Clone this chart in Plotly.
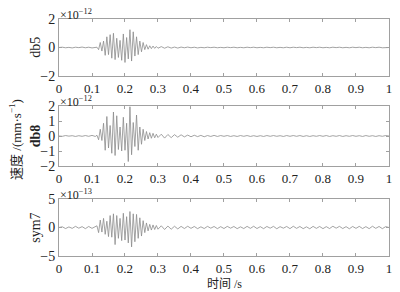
import plotly.graph_objects as go

# time samples (s)
time_pre = [0.00, 0.01, 0.02, 0.03, 0.04, 0.05, 0.06, 0.07, 0.08, 0.09, 0.10, 0.11]
time_act = [0.115, 0.120, 0.125, 0.130, 0.135, 0.140, 0.145, 0.150, 0.155, 0.160,
            0.165, 0.170, 0.175, 0.180, 0.185, 0.190, 0.195, 0.200, 0.205, 0.210,
            0.215, 0.220, 0.225, 0.230, 0.235, 0.240, 0.245, 0.250, 0.255, 0.260,
            0.265, 0.270, 0.275, 0.280, 0.285, 0.290, 0.295, 0.300]
time_post = [0.31, 0.32, 0.33, 0.34, 0.35, 0.36, 0.37, 0.38, 0.39, 0.40,
             0.41, 0.42, 0.43, 0.44, 0.45, 0.46, 0.47, 0.48, 0.49, 0.50,
             0.51, 0.52, 0.53, 0.54, 0.55, 0.56, 0.57, 0.58, 0.59, 0.60,
             0.61, 0.62, 0.63, 0.64, 0.65, 0.66, 0.67, 0.68, 0.69, 0.70,
             0.71, 0.72, 0.73, 0.74, 0.75, 0.76, 0.77, 0.78, 0.79, 0.80,
             0.81, 0.82, 0.83, 0.84, 0.85, 0.86, 0.87, 0.88, 0.89, 0.90,
             0.91, 0.92, 0.93, 0.94, 0.95, 0.96, 0.97, 0.98, 0.99, 1.00]

# db5 velocity (x1e-12)
db5_pre = [0.0, 0.02, -0.02, 0.01, -0.03, 0.02, -0.01, 0.03, -0.02, 0.02, -0.03, 0.04]
db5_act = [0.02, -0.15, 0.35, -0.25, 0.45, -0.55, 0.75, -0.5, 0.9, -0.75,
           1.0, -0.85, 0.65, -0.7, 0.5, -0.9, 0.95, -1.05, 0.7, -0.8,
           1.25, -0.95, 1.1, -0.6, 0.75, -0.5, 0.45, -0.3, 0.35, -0.15,
           0.2, -0.12, 0.12, -0.08, 0.1, -0.06, 0.07, -0.05]
db5_post = [0.06, -0.05, 0.05, -0.04, 0.03, -0.04, 0.03, -0.02, 0.03, -0.02,
            0.02, -0.03, 0.01, -0.02, 0.02, -0.01, 0.02, -0.02, 0.01, -0.02,
            0.02, -0.01, 0.02, -0.02, 0.01, -0.02, 0.02, -0.01, 0.02, -0.02,
            0.01, -0.02, 0.02, -0.01, 0.02, -0.02, 0.01, -0.02, 0.02, -0.02,
            0.02, -0.01, 0.02, -0.02, 0.01, -0.02, 0.02, -0.01, 0.02, -0.02,
            0.01, -0.02, 0.02, -0.01, 0.02, -0.02, 0.01, -0.02, 0.02, -0.01,
            0.02, -0.02, 0.01, -0.02, 0.02, -0.01, 0.02, -0.02, 0.01, 0.0]

# db8 velocity (x1e-12)
db8_pre = [0.0, -0.02, 0.03, -0.01, 0.02, -0.03, 0.02, -0.02, 0.03, -0.02, 0.04, -0.03]
db8_act = [0.05, -0.25, 0.45, -0.3, 0.85, -0.95, 1.3, -0.8, 0.7, -1.15,
           1.6, -1.3, 1.35, -0.9, 0.6, -1.0, 1.25, -0.95, 0.85, -1.7,
           1.95, -1.25, 0.9, -0.7, 1.4, -0.95, 0.6, -0.55, 0.45, -0.3,
           0.3, -0.2, 0.22, -0.15, 0.18, -0.12, 0.12, -0.1]
db8_post = [0.12, -0.14, 0.1, -0.11, 0.09, -0.08, 0.08, -0.06, 0.06, -0.05,
            0.05, -0.04, 0.04, -0.05, 0.03, -0.03, 0.04, -0.03, 0.03, -0.02,
            0.03, -0.03, 0.02, -0.03, 0.03, -0.02, 0.03, -0.03, 0.02, -0.03,
            0.02, -0.03, 0.03, -0.02, 0.03, -0.02, 0.02, -0.03, 0.03, -0.02,
            0.03, -0.02, 0.03, -0.03, 0.02, -0.03, 0.02, -0.02, 0.03, -0.02,
            0.03, -0.03, 0.02, -0.02, 0.03, -0.03, 0.02, -0.02, 0.03, -0.02,
            0.02, -0.03, 0.03, -0.02, 0.02, -0.03, 0.02, -0.02, 0.03, 0.0]

# sym7 velocity (x1e-13)
sym7_pre = [0.0, 0.12, -0.18, 0.1, -0.15, 0.2, -0.12, 0.15, -0.2, 0.18, -0.15, 0.25]
sym7_act = [0.3, -0.9, 1.3, -0.8, 1.6, -1.2, 1.1, -1.6, 2.1, -1.7,
            2.4, -3.0, 2.1, -1.9, 1.6, -2.3, 2.5, -2.2, 1.9, -2.7,
            2.8, -3.4, 2.4, -2.5, 2.3, -1.9, 1.7, -1.5, 1.2, -0.9,
            0.8, -0.6, 0.55, -0.45, 0.45, -0.35, 0.35, -0.3]
sym7_post = [0.3, -0.35, 0.25, -0.3, 0.22, -0.25, 0.2, -0.18, 0.22, -0.15,
             0.18, -0.2, 0.12, -0.18, 0.2, -0.12, 0.18, -0.2, 0.15, -0.18,
             0.2, -0.12, 0.18, -0.2, 0.12, -0.18, 0.2, -0.15, 0.22, -0.18,
             0.15, -0.2, 0.18, -0.12, 0.2, -0.22, 0.15, -0.12, 0.18, -0.2,
             0.22, -0.15, 0.18, -0.2, 0.12, -0.22, 0.2, -0.15, 0.18, -0.2,
             0.15, -0.18, 0.22, -0.12, 0.2, -0.18, 0.15, -0.22, 0.18, -0.15,
             0.2, -0.18, 0.15, -0.2, 0.22, -0.15, 0.18, -0.2, 0.15, 0.0]

time = time_pre + time_act + time_post
series = [
    ("db5", db5_pre + db5_act + db5_post, [-2, 0, 2], "×10<sup>−12</sup>"),
    ("<b>db8</b>", db8_pre + db8_act + db8_post, [-2, -1, 0, 1, 2], "×10<sup>−12</sup>"),
    ("sym7", sym7_pre + sym7_act + sym7_post, [-5, 0, 5], "×10<sup>−13</sup>"),
]
x_ticks = [0, 0.1, 0.2, 0.3, 0.4, 0.5, 0.6, 0.7, 0.8, 0.9, 1]

FONT = "Liberation Serif, Times New Roman, serif"
FONT_CJK = "Liberation Serif, Noto Sans CJK SC"
AX = "#a0a0a0"
domains = [[0.7595, 1.0], [0.3797, 0.6329], [0.0, 0.2405]]

fig = go.Figure()
annotations = []
for i, (name, vals, yt, expo) in enumerate(series):
    n = "" if i == 0 else str(i + 1)
    fig.add_trace(go.Scatter(x=time, y=vals, mode="lines",
                             line=dict(color="#8c8c8c", width=0.8),
                             xaxis="x" + n, yaxis="y" + n, showlegend=False,
                             hoverinfo="skip"))
    rng = [yt[0], yt[-1]]
    fig.update_layout(**{
        "xaxis" + n: dict(domain=[0, 1], anchor="y" + n, range=[0, 1.0001],
                          tickvals=x_ticks, ticktext=[str(v) for v in x_ticks],
                          ticks="inside", ticklen=3,
                          tickcolor=AX, showline=True, linecolor=AX,
                          linewidth=1, mirror="ticks", showgrid=False,
                          zeroline=False, automargin=False,
                          tickfont=dict(size=13, color="#222", family=FONT)),
        "yaxis" + n: dict(domain=domains[i], anchor="x" + n, range=rng,
                          tickvals=yt, ticks="inside", ticklen=3,
                          tickcolor=AX, showline=True, linecolor=AX,
                          linewidth=1, mirror="ticks", showgrid=False,
                          zeroline=False, automargin=False,
                          tickfont=dict(size=14, color="#222", family=FONT)),
    })
    annotations.append(dict(text=expo, xref="paper", yref="paper", x=0.0,
                            y=domains[i][1], xanchor="left", yanchor="bottom",
                            yshift=-4, borderpad=0, showarrow=False,
                            font=dict(size=12, color="#222", family=FONT)))
    annotations.append(dict(text=name, xref="paper", yref="paper", x=-0.072,
                            y=(domains[i][0] + domains[i][1]) / 2,
                            xanchor="center", yanchor="middle", textangle=-90,
                            showarrow=False,
                            font=dict(size=14, color="#222", family=FONT)))

annotations.append(dict(text="速度 /(mm·s<sup>−1</sup>)", xref="paper", yref="paper",
                        x=-0.133, y=0.49, xanchor="center", yanchor="middle",
                        textangle=-90, showarrow=False,
                        font=dict(size=13, color="#222", family=FONT_CJK)))
annotations.append(dict(text="时间 /s", xref="paper", yref="paper",
                        x=0.5, y=-0.08, xanchor="center", yanchor="top",
                        showarrow=False,
                        font=dict(size=12, color="#222", family=FONT_CJK)))

fig.update_layout(width=400, height=292, template="none",
                  margin=dict(l=59, r=11, t=19, b=36),
                  paper_bgcolor="white", plot_bgcolor="white",
                  font=dict(family=FONT, size=14, color="#222"),
                  annotations=annotations)

fig.write_html("out.html", config={"displayModeBar": False},
               post_script="document.body.style.margin='0';document.body.style.overflow='hidden';")
